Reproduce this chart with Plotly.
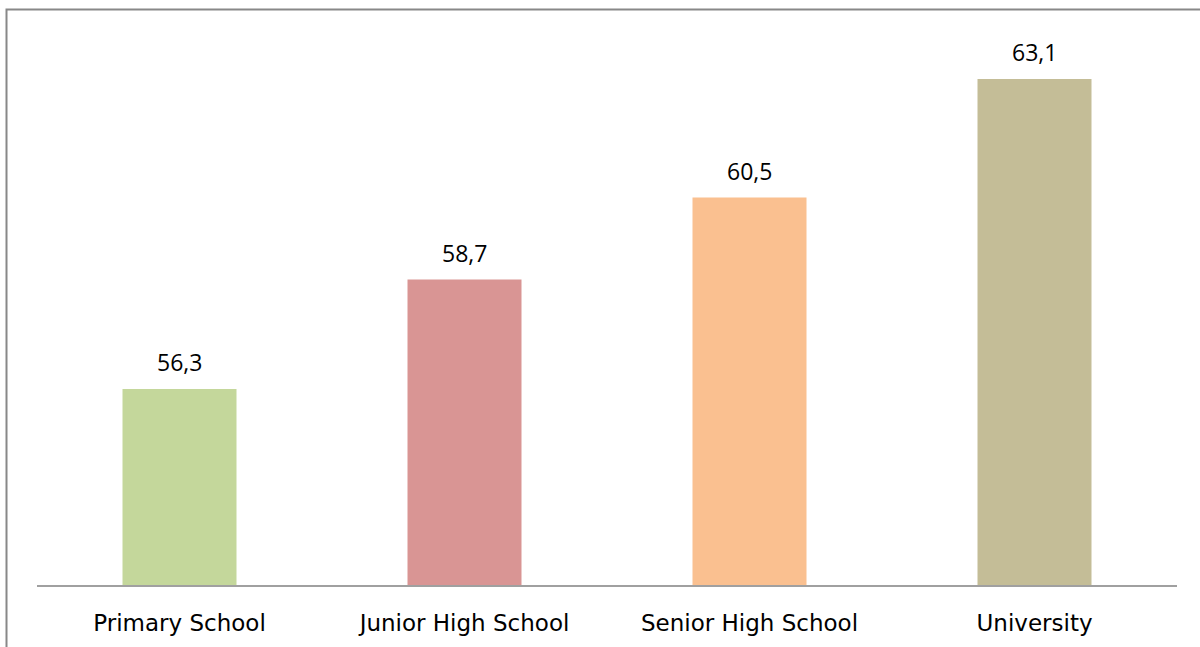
import plotly.graph_objects as go

categories = ["Primary School", "Junior High School", "Senior High School", "University"]
values = [56.3, 58.7, 60.5, 63.1]
colors = ["#C4D79B", "#D99594", "#FAC090", "#C4BD97"]

W, H = 1200, 647
L, R, T, B = 37, 23, 38, 62
pw = W - L - R
ph = H - T - B

fig = go.Figure()
fig.add_trace(go.Bar(
    x=categories, y=values, marker=dict(color=colors, line=dict(width=0)),
    width=0.4, hoverinfo="skip",
))

for c, v in zip(categories, values):
    fig.add_annotation(x=c, y=v, text=f"{v:.1f}".replace(".", ","), showarrow=False,
                       yshift=27, font=dict(family="Open Sans, DejaVu Sans", size=23, color="#000000"))

# outer chart border
fig.add_shape(type="rect", xref="paper", yref="paper",
              x0=(6.5 - L) / pw, x1=2, y0=-2, y1=(H - B - 9.5) / ph,
              line=dict(color="#888888", width=2), fillcolor="rgba(0,0,0,0)", layer="below")

fig.update_layout(
    width=W, height=H,
    margin=dict(l=L, r=R, t=T, b=B, pad=0),
    paper_bgcolor="white", plot_bgcolor="white",
    showlegend=False,
    separators=",.",
    font=dict(family="DejaVu Sans", size=20, color="#000000"),
    xaxis=dict(showline=True, linecolor="#A0A0A0", linewidth=2, showgrid=False,
               ticks="", tickfont=dict(family="DejaVu Sans", size=23, color="#000000"),
               ticklabelstandoff=16),
    yaxis=dict(range=[52, 64], visible=False, showgrid=False, zeroline=False),
)

fig.write_html("out.html")
